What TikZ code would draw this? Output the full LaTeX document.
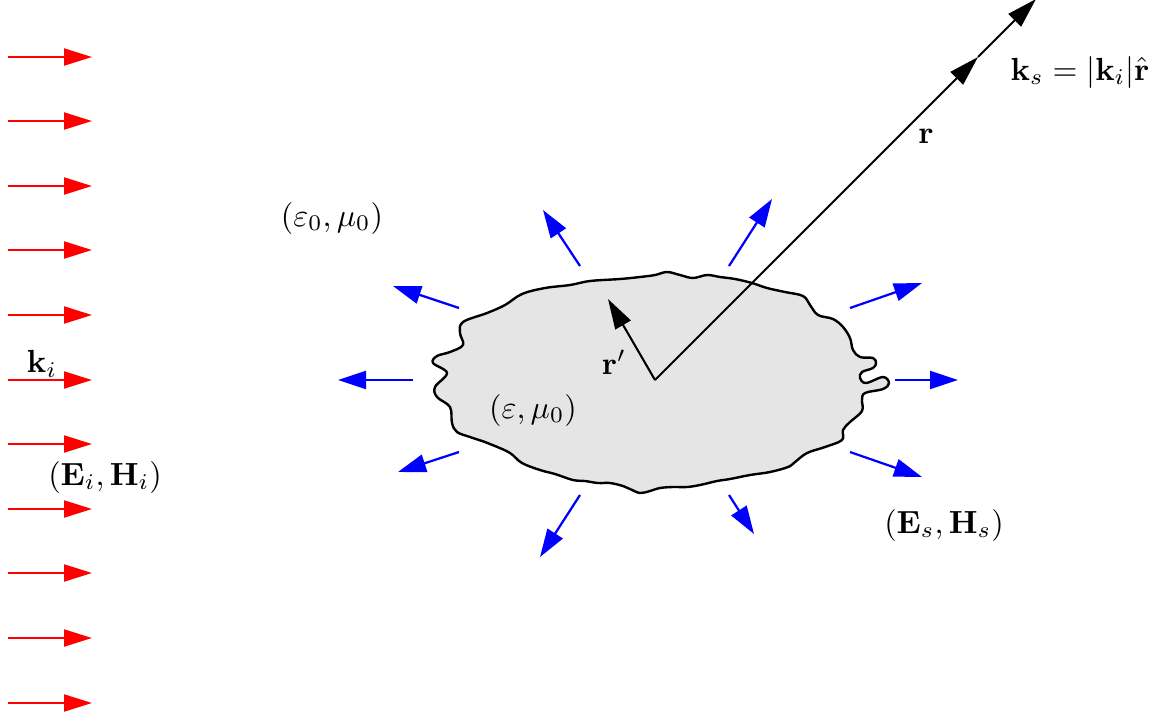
\documentclass[tikz,border=0pt]{standalone}
\usetikzlibrary{arrows.meta}
\begin{document}
\begin{tikzpicture}[x=0.3125pt,y=-0.3125pt,
  inc/.style={red,line width=0.7pt,-{Triangle[length=8.75pt,width=5.3pt]}},
  sca/.style={blue,line width=0.7pt,-{Triangle[length=8.75pt,width=5.6pt]}},
  vec/.style={black,line width=0.65pt,-{Triangle[length=9.4pt,width=5.5pt]}},
  lbl/.style={inner sep=0pt}]
\useasboundingbox (0,0) rectangle (1164,719);
% scatterer
\draw[line width=0.75pt,fill=gray!20] plot[smooth cycle,tension=0.6] coordinates {
(450,407) (437,397) (435,387) (447,373) (433,363) (437,356) (450,352) (463,345)
(460,333) (463,322) (487,313) (505,305) (522,294) (545,288) (570,285) (590,281)
(620,279) (640,277) (655,275) (667,272) (680,275) (693,278) (707,275) (720,277)
(735,279) (752,283) (767,288) (785,292) (803,296) (810,305) (818,315) (833,319)
(843,327) (850,338) (853,350) (860,357) (873,358) (876,363) (873,368) (862,372)
(860,378) (866,383) (883,377) (889,383) (883,389) (865,393) (862,400) (862,411)
(850,422) (843,430) (842,440) (825,447) (807,453) (795,462) (788,467) (770,472)
(750,475) (730,479) (717,481) (700,485) (687,487) (673,487) (660,488) (650,491)
(640,493) (630,489) (623,486) (610,483) (598,483) (585,481) (573,480) (555,474)
(540,470) (522,463) (510,453) (495,446) (485,442) (470,437) (457,432) (452,423)};
% incident arrows
\foreach \i/\y in {1/57,2/121,3/186,4/250,5/315,6/380,7/444,8/509,9/573,10/638,11/703}{
  \coordinate (ia\i) at (8,\y);
  \coordinate (ib\i) at (92,\y);
  \draw[inc] (ia\i) -- (ib\i);
}
% scattered arrows
\foreach \n/\sx/\sy/\ex/\ey in {1/413/380/338/380, 2/459/308/393/286, 3/459/452/398/472,
  4/580/266/543/210, 5/729/266/772/199, 6/850/308/922/283, 7/895/380/958/380,
  8/850/452/922/477, 9/580/495/540/557, 10/729/495/754/534}{
  \coordinate (sa\n) at (\sx,\sy);
  \coordinate (sb\n) at (\ex,\ey);
  \draw[sca] (sa\n) -- (sb\n);
}
% position vectors
\coordinate (O) at (655,380);
\coordinate (Rp) at (608,299);
\coordinate (M) at (978,57);
\coordinate (E) at (1036,-1);
\draw[vec] (O) -- (Rp);
\draw[vec] (O) -- (M);
\draw[vec] (M) -- (E);
% labels
\node[lbl] (ki) at (42,364) {$\mathbf{k}_i$};
\node[lbl] (EHi) at (105,477) {$(\mathbf{E}_i,\mathbf{H}_i)$};
\node[lbl] (out) at (332,218) {$(\varepsilon_0,\mu_0)$};
\node[lbl] (in) at (533,410) {$(\varepsilon,\mu_0)$};
\node[lbl] (rp) at (614,362) {$\mathbf{r}'$};
\node[lbl] (r) at (926,136) {$\mathbf{r}$};
\node[lbl] (ks) at (1080,72) {$\mathbf{k}_s=|\mathbf{k}_i|\hat{\mathbf{r}}$};
\node[lbl] (EHs) at (944,525) {$(\mathbf{E}_s,\mathbf{H}_s)$};
\end{tikzpicture}
\end{document}
